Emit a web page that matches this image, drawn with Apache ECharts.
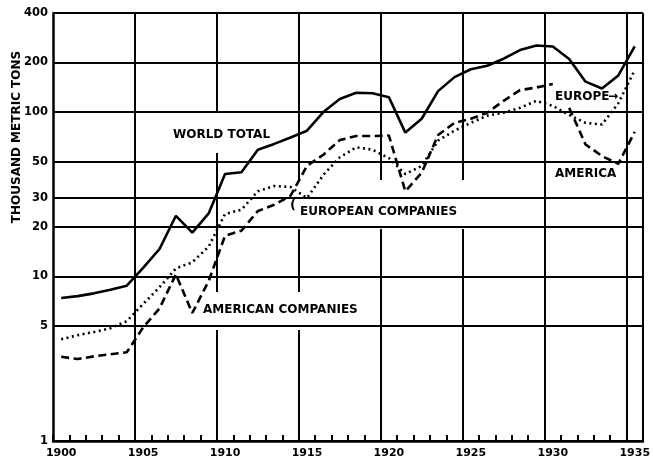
<!DOCTYPE html>
<html><head><meta charset="utf-8">
<script src="https://cdn.jsdelivr.net/npm/echarts@6/dist/echarts.min.js"></script>
<style>html,body{margin:0;padding:0;background:#fff}#c{width:653px;height:464px}</style>
</head><body><div id="c"></div>
<script>
// Years (each value plotted at the middle of its year band)
const years = ['1900','1901','1902','1903','1904','1905','1906','1907','1908','1909',
  '1910','1911','1912','1913','1914','1915','1916','1917','1918','1919',
  '1920','1921','1922','1923','1924','1925','1926','1927','1928','1929',
  '1930','1931','1932','1933','1934','1935'];
// Y tick labels (thousand metric tons, log scale)
const yTicks = [1, 5, 10, 20, 30, 50, 100, 200, 400];
// World total 1900-1935
const worldTotal = [7.4, 7.6, 7.9, 8.3, 8.8, 11.3, 14.7, 23.4, 18.5, 24.2,
  42, 43, 59, 64, 70, 77, 100, 120, 131, 130,
  123, 75, 91, 134, 163, 182, 191, 211, 238, 254,
  250, 210, 153, 139, 167, 251];
// European companies 1900-1930, then Europe 1931-1935
const europeanCompanies = [4.15, 4.4, 4.6, 4.85, 5.35, 6.8, 8.6, 11.2, 12.2, 15.2,
  24, 25.5, 33, 35.5, 35, 30, 41.5, 53, 61, 59,
  52.5, 42, 47, 67, 77, 86, 95, 99, 106, 117,
  109, 96, 86, 84, 113, 180];
// American companies 1900-1930
const americanCompanies = [3.25, 3.15, 3.27, 3.37, 3.46, 4.9, 6.4, 10.3, 6.0, 9.4,
  17.7, 19, 25, 27.3, 31, 47, 55, 67.5, 71.5, 71.5,
  72, 33, 42.7, 72.5, 86, 91, 99, 117, 136, 141, 148];
// America 1931-1935
const america = [106, 63.5, 54, 48.4, 75.7];

const F = 'DejaVu Sans';
const pad = (n) => Array(n).fill(null);
const chart = echarts.init(document.getElementById('c'));
const txt = (text, x, y, extra) => Object.assign({
  type: 'text', z: 10, x: x, y: y,
  style: { text: text, fill: '#000', font: 'bold 12px "DejaVu Sans"', textVerticalAlign: 'middle' }
}, extra || {});
const box = (x, y, w, h) => ({ type: 'rect', z: 1, shape: { x: x, y: y, width: w, height: h }, style: { fill: '#fff' } });

chart.setOption({
  animation: false,
  backgroundColor: '#fff',
  grid: { left: 53, right: 8, top: 13, bottom: 23 },
  xAxis: {
    type: 'category', data: years, boundaryGap: true, z: 0,
    axisLine: { lineStyle: { color: '#000', width: 2.5 } },
    axisTick: { show: true, inside: true, interval: 0, length: 6, lineStyle: { color: '#000', width: 2 } },
    axisLabel: { interval: (i) => i % 5 === 0, color: '#000', fontFamily: F, fontWeight: 'bold', fontSize: 11, margin: 7 },
    splitLine: { show: true, interval: (i) => i % 5 === 0 && i > 0, lineStyle: { color: '#000', width: 2 } }
  },
  yAxis: {
    type: 'log', logBase: 10, min: 1, max: 400, z: 2,
    axisLine: { show: true, lineStyle: { color: '#000', width: 2.5 } },
    axisTick: { show: false, customValues: yTicks },
    axisLabel: { customValues: yTicks, color: '#000', fontFamily: F, fontWeight: 'bold', fontSize: 11.5, margin: 5 },
    splitLine: { show: true, lineStyle: { color: '#000', width: 2 } }
  },
  series: [
    { type: 'line', name: 'World total', data: worldTotal, symbol: 'none', z: 3, silent: true,
      lineStyle: { color: '#000', width: 2.6, type: 'solid' } },
    { type: 'line', name: 'European companies', data: europeanCompanies, symbol: 'none', z: 3, silent: true,
      lineStyle: { color: '#000', width: 2.6, type: [2, 3.5] } },
    { type: 'line', name: 'American companies', data: americanCompanies.concat(pad(5)), symbol: 'none', z: 3, silent: true,
      lineStyle: { color: '#000', width: 2.6, type: [8, 4.5] } },
    { type: 'line', name: 'America', data: pad(31).concat(america), symbol: 'none', z: 3, silent: true,
      lineStyle: { color: '#000', width: 2.6, type: [8, 4.5] } }
  ],
  graphic: [
    box(168, 113, 112, 40),
    box(288, 180, 178, 49),
    box(200, 292, 170, 38),
    txt('WORLD TOTAL', 173, 135),
    txt('(', 290, 206, { style: { text: '(', fill: '#000', font: 'bold 13px "DejaVu Sans"', textVerticalAlign: 'middle' } }),
    txt('EUROPEAN COMPANIES', 300, 212),
    txt('AMERICAN COMPANIES', 203, 310),
    txt('EUROPE', 555, 97),
    txt('→', 608, 97),
    txt('AMERICA', 555, 174),
    { type: 'text', z: 10, x: 17, y: 137, rotation: Math.PI / 2,
      style: { text: 'THOUSAND METRIC TONS', fill: '#000', font: 'bold 12px "DejaVu Sans"', textAlign: 'center', textVerticalAlign: 'middle' } }
  ]
});
</script></body></html>
